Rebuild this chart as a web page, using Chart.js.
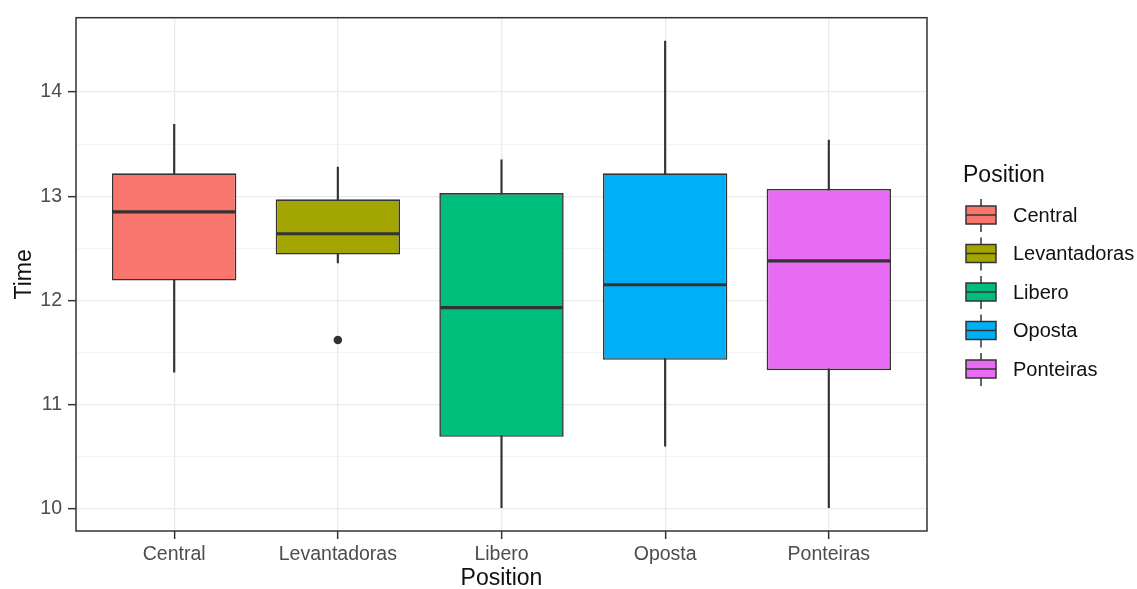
<!DOCTYPE html>
<html>
<head>
<meta charset="utf-8">
<title>Time by Position</title>
<script src="https://cdn.jsdelivr.net/npm/chart.js@4.4.1/dist/chart.umd.min.js"></script>
<style>
  html, body { margin: 0; padding: 0; background: #fff; overflow: hidden; }
  #wrap { width: 1137px; height: 589px; position: relative; }
</style>
</head>
<body>
<div id="wrap"><canvas id="chart"></canvas></div>
<script>
const positions = ['Central', 'Levantadoras', 'Libero', 'Oposta', 'Ponteiras'];
const lowerWhisker = [11.31, 12.36, 10.01, 10.60, 10.01];
const lowerQuartile = [12.19, 12.44, 10.69, 11.43, 11.33];
const medians = [12.85, 12.64, 11.93, 12.15, 12.38];
const upperQuartile = [13.22, 12.97, 13.03, 13.22, 13.07];
const upperWhisker = [13.69, 13.28, 13.35, 14.49, 13.54];
const outlierPosition = ['Levantadoras'];
const outlierTime = [11.62];
const fillColors = ['#F8766D', '#A3A500', '#00BF7D', '#00B0F6', '#E76BF3'];
const yMajorTicks = [10, 11, 12, 13, 14];
const yMinorTicks = [10.5, 11.5, 12.5, 13.5];

const FONT = '"Liberation Sans", Arial, sans-serif';
const INK = '#333333';

// ggplot style 5% expansion of the data range
const dataLo = Math.min(...lowerWhisker, ...outlierTime);
const dataHi = Math.max(...upperWhisker, ...outlierTime);
const expand = (dataHi - dataLo) * 0.05;

const isMajor = v => yMajorTicks.includes(v);

// medians + panel border
const boxExtras = {
  id: 'boxExtras',
  afterDatasetsDraw(chart) {
    const ctx = chart.ctx;
    const y = chart.scales.y;
    const meta = chart.getDatasetMeta(0);
    ctx.save();
    ctx.strokeStyle = INK;
    ctx.lineWidth = 3.2;
    meta.data.forEach((bar, i) => {
      const py = y.getPixelForValue(medians[i]);
      ctx.beginPath();
      ctx.moveTo(bar.x - bar.width / 2 + 1, py);
      ctx.lineTo(bar.x + bar.width / 2 - 1, py);
      ctx.stroke();
    });
    ctx.restore();
  },
  afterDraw(chart) {
    const { ctx, chartArea } = chart;
    ctx.save();
    ctx.strokeStyle = INK;
    ctx.lineWidth = 1.5;
    ctx.strokeRect(chartArea.left, chartArea.top, chartArea.right - chartArea.left, chartArea.bottom - chartArea.top);
    ctx.restore();
  }
};

// legend with boxplot keys, like ggplot
const boxLegend = {
  id: 'boxLegend',
  afterDraw(chart) {
    const { ctx, chartArea } = chart;
    const x0 = chartArea.right + 36;
    const keyX = x0 + 3;
    const keyW = 30;
    const keyH = 18;
    const firstY = 215;
    const step = 38.5;

    ctx.save();
    ctx.fillStyle = '#111';
    ctx.font = '23px ' + FONT;
    ctx.textAlign = 'left';
    ctx.textBaseline = 'alphabetic';
    ctx.fillText('Position', x0, 182);

    positions.forEach((name, i) => {
      const cy = firstY + i * step;
      ctx.strokeStyle = INK;
      ctx.lineWidth = 1.5;
      ctx.beginPath();
      ctx.moveTo(keyX + keyW / 2, cy - 16);
      ctx.lineTo(keyX + keyW / 2, cy + 17);
      ctx.stroke();
      ctx.fillStyle = fillColors[i];
      ctx.fillRect(keyX, cy - keyH / 2, keyW, keyH);
      ctx.strokeRect(keyX, cy - keyH / 2, keyW, keyH);
      ctx.beginPath();
      ctx.moveTo(keyX, cy);
      ctx.lineTo(keyX + keyW, cy);
      ctx.stroke();

      ctx.fillStyle = '#111';
      ctx.font = '20px ' + FONT;
      ctx.textBaseline = 'middle';
      ctx.fillText(name, keyX + 47, cy + 1);
    });
    ctx.restore();
  }
};

new Chart(document.getElementById('chart'), {
  type: 'bar',
  data: {
    datasets: [{
      label: 'box',
      data: positions.map((p, i) => ({ x: i + 1, y: [lowerQuartile[i], upperQuartile[i]] })),
      backgroundColor: fillColors,
      borderColor: INK,
      borderWidth: 1.6,
      borderSkipped: false,
      grouped: false,
      barPercentage: 0.76,
      categoryPercentage: 1,
      order: 1,
    }, {
      label: 'whisker',
      data: positions.map((p, i) => ({ x: i + 1, y: [lowerWhisker[i], upperWhisker[i]] })),
      backgroundColor: INK,
      borderWidth: 0,
      grouped: false,
      barThickness: 1.5,
      order: 2,
    }, {
      type: 'scatter',
      label: 'outlier',
      data: outlierTime.map((t, i) => ({ x: positions.indexOf(outlierPosition[i]) + 1, y: t })),
      pointRadius: 4.3,
      backgroundColor: INK,
      borderWidth: 0,
      order: 0,
    }]
  },
  options: {
    responsive: true,
    maintainAspectRatio: false,
    animation: false,
    layout: { padding: { left: 0, right: 210, top: 16, bottom: 0 } },
    plugins: {
      legend: { display: false },
      tooltip: { enabled: false },
    },
    scales: {
      x: {
        type: 'linear',
        min: 0.4,
        max: 5.6,
        offset: false,
        afterBuildTicks: s => { s.ticks = positions.map((p, i) => ({ value: i + 1 })); },
        afterFit: s => { s.height = 58; },
        ticks: {
          callback: v => positions[v - 1],
          color: '#4D4D4D',
          font: { family: FONT, size: 19.5 },
          padding: 4,
          maxRotation: 0,
          autoSkip: false,
        },
        grid: { offset: false, color: '#EBEBEB', lineWidth: 1.3, tickLength: 8, tickColor: INK, tickWidth: 1.5 },
        border: { display: false },
        title: { display: true, text: 'Position', color: '#111', font: { family: FONT, size: 23, lineHeight: 1 }, padding: { top: 0, bottom: -1 } },
      },
      y: {
        type: 'linear',
        min: dataLo - expand,
        max: dataHi + expand,
        afterBuildTicks: s => {
          s.ticks = [...yMajorTicks, ...yMinorTicks].sort((a, b) => a - b).map(v => ({ value: v }));
        },
        afterFit: s => { s.width = 76; },
        ticks: {
          callback: v => isMajor(v) ? String(v) : '',
          color: '#4D4D4D',
          font: { family: FONT, size: 19.5 },
          padding: 6,
        },
        grid: {
          color: c => isMajor(c.tick.value) ? '#EBEBEB' : '#F3F3F3',
          lineWidth: c => isMajor(c.tick.value) ? 1.3 : 0.9,
          tickLength: 8,
          tickColor: c => isMajor(c.tick.value) ? INK : 'rgba(0,0,0,0)',
          tickWidth: 1.5,
        },
        border: { display: false },
        title: { display: true, text: 'Time', color: '#111', font: { family: FONT, size: 23, lineHeight: 1 }, padding: { top: 13, bottom: 0 } },
      },
    },
  },
  plugins: [boxExtras, boxLegend],
});
</script>
</body>
</html>
